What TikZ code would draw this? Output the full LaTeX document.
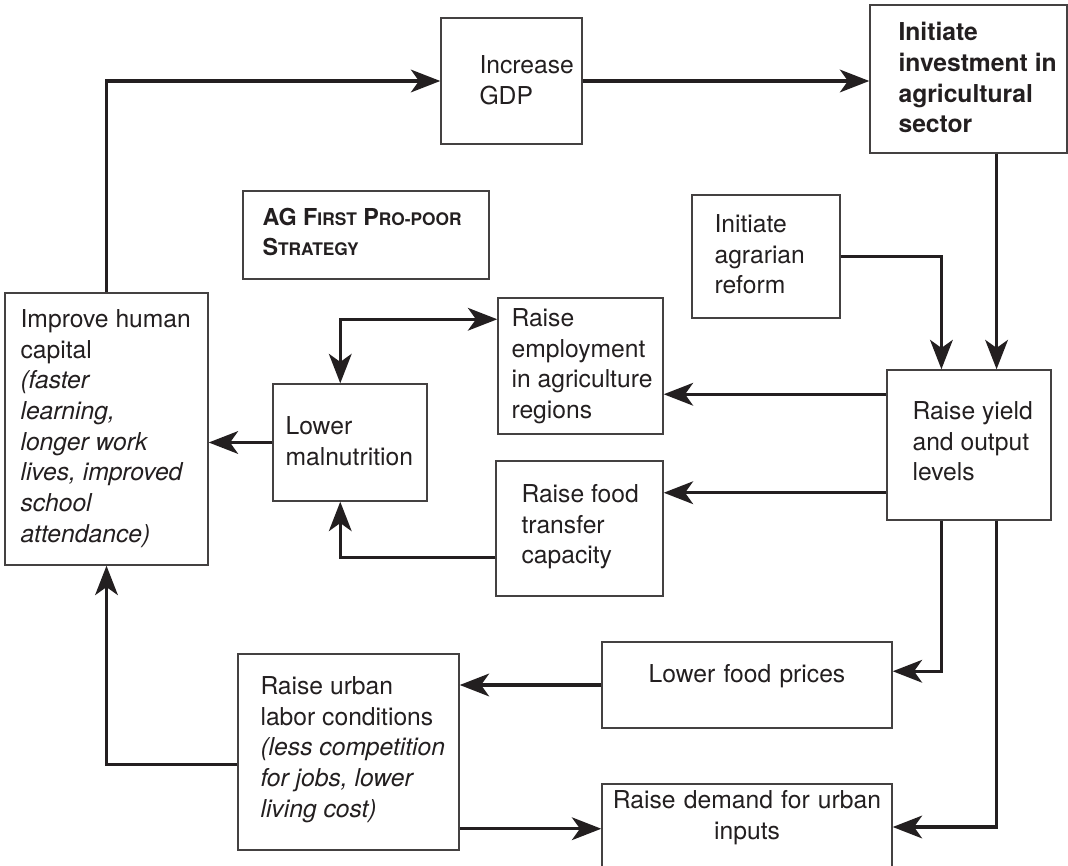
\documentclass[tikz,border=0pt]{standalone}
\usepackage{fontspec}
\setmainfont{TeX Gyre Heros}
\usepackage{tikz}
\usetikzlibrary{arrows.meta,calc,fit}

\definecolor{ink}{HTML}{231F20}
\newcommand{\bodysize}{\fontsize{18.5pt}{23pt}\selectfont}
\newcommand{\smc}[1]{{\fontsize{13pt}{15pt}\selectfont #1}}

\tikzset{
  box/.style={draw=ink!85, line width=1.1pt, inner sep=0pt, text=ink},
  txt/.style={anchor=north west, inner sep=0pt, align=left, text=ink},
  flow/.style={draw=ink, line width=2.4pt, ->},
}

\begin{document}
\begin{tikzpicture}[x=0.75pt, y=-0.75pt,
    >={Stealth[length=22pt,width=17pt,inset=6pt]},
    font=\bodysize]
    \useasboundingbox (0,0) rectangle (1068,866);
    %%boxes
    \node[box, fit={(441,18) (582,144)}] (gdp) {};
    \node[box, fit={(870,5) (1067,153)}] (inv) {};
    \node[box, fit={(243,191) (489,279)}] (ag) {};
    \node[box, fit={(692,195) (840,318)}] (agr) {};
    \node[box, fit={(5,293) (208,565)}] (hum) {};
    \node[box, fit={(498,298) (663,434)}] (emp) {};
    \node[box, fit={(273,384) (427,501)}] (mal) {};
    \node[box, fit={(887,370) (1051,520)}] (yld) {};
    \node[box, fit={(496,461) (663,596)}] (fd) {};
    \node[box, fit={(238,654) (459,850)}] (urb) {};
    \node[box, fit={(602,642) (892,728)}, align=center] (fp) {Lower food prices};
    \node[box, fit={(602,784) (892,870)}, align=center] (dem) {Raise demand for urban\\inputs};
    %%texts
    \node[txt] (gdp-t) at ($(gdp.north west)+(39,38)$) {Increase\\GDP};
    \node[txt, font=\bodysize\bfseries] (inv-t) at ($(inv.north west)+(29,18)$)
        {Initiate\\investment in\\agricultural\\sector};
    \node[txt, font=\fontsize{17.5pt}{22pt}\selectfont\bfseries] (ag-t) at ($(ag.north west)+(20,18)$)
        {AG F\smc{IRST} P\smc{RO-POOR}\\S\smc{TRATEGY}};
    \node[txt] (agr-t) at ($(agr.north west)+(23,20)$) {Initiate\\agrarian\\reform};
    \node[txt] (hum-t) at ($(hum.north west)+(16,17)$)
        {Improve human\\capital\\\textit{(faster}\\\textit{learning,}\\\textit{longer work}\\\textit{lives, improved}\\\textit{school}\\\textit{attendance)}};
    \node[txt] (emp-t) at ($(emp.north west)+(14,11)$) {Raise\\employment\\in agriculture\\regions};
    \node[txt] (mal-t) at ($(mal.north west)+(13,33)$) {Lower\\malnutrition};
    \node[txt] (yld-t) at ($(yld.north west)+(26,32)$) {Raise yield\\and output\\levels};
    \node[txt] (fd-t) at ($(fd.north west)+(26,24)$) {Raise food\\transfer\\capacity};
    \node[txt] (urb-t) at ($(urb.north west)+(23,23)$)
        {Raise urban\\labor conditions\\\textit{(less competition}\\\textit{for jobs, lower}\\\textit{living cost)}};
    %%top loop
    \draw[flow] (hum.north) |- (gdp.west);
    \draw[flow] (gdp.east) -- (gdp.east -| inv.west);
    %%into yield
    \coordinate (yn1) at ($(yld.north west)!1/3!(yld.north east)$);
    \coordinate (yn2) at ($(yld.north west)!2/3!(yld.north east)$);
    \coordinate (ys1) at ($(yld.south west)!1/3!(yld.south east)$);
    \coordinate (ys2) at ($(yld.south west)!2/3!(yld.south east)$);
    \draw[flow] (yn2 |- inv.south) -- (yn2);
    \draw[flow] (agr.east) -| (yn1);
    %%out of yield, left
    \coordinate (yw1) at ($(yld.north west)+(0,25)$);
    \coordinate (yw2) at ($(yld.south west)+(0,-28)$);
    \draw[flow] (yw1) -- (yw1 -| emp.east);
    \draw[flow] (yw2) -- (yw2 -| fd.east);
    %%malnutrition
    \coordinate (mt) at ($(mal.north west)+(68,0)$);
    \coordinate (mb) at ($(mal.south west)+(68,0)$);
    \coordinate (ew) at ($(emp.north west)+(0,22)$);
    \coordinate (fw) at ($(fd.south west)+(0,-39)$);
    \draw[flow, <->] (mt) |- (ew);
    \draw[flow] (fw) -| (mb);
    \draw[flow] (mal.west) -- (mal.west -| hum.east);
    %%out of yield, bottom
    \coordinate (fpe) at ($(fp.north east)+(0,30)$);
    \draw[flow] (ys1) |- (fpe);
    \draw[flow] (ys2) |- (dem.east);
    \draw[flow] (fp.west) -- (fp.west -| urb.east);
    %%urban
    \coordinate (uw) at ($(urb.north west)+(0,111)$);
    \coordinate (ue) at ($(urb.south east)+(0,-22)$);
    \draw[flow] (uw) -| (hum.south);
    \draw[flow] (ue) -- (ue -| dem.west);
\end{tikzpicture}
\end{document}
